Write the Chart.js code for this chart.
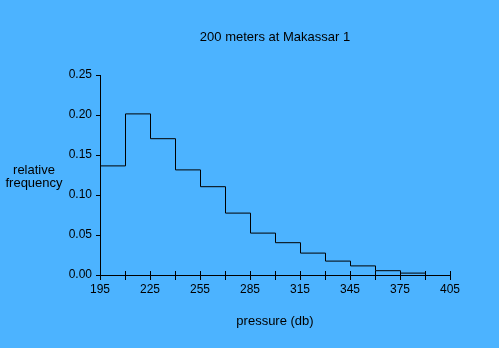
<!DOCTYPE html>
<html>
<head>
<meta charset="utf-8">
<script src="https://cdn.jsdelivr.net/npm/chart.js@4/dist/chart.umd.min.js"></script>
<style>
  html, body { margin: 0; padding: 0; background: #4cb3ff; }
  canvas { display: block; }
</style>
</head>
<body>
<canvas id="myChart" width="499" height="348"></canvas>
<script>
// histogram bins (left edge, db) and relative frequency
let binStarts = [195, 210, 225, 240, 255, 270, 285, 300, 315, 330, 345, 360, 375];
let binWidth = 15;
let freqs = [0.137, 0.202, 0.171, 0.132, 0.111, 0.078, 0.053, 0.041, 0.028, 0.018, 0.012, 0.006, 0.003];
let xTickLabels = [195, 225, 255, 285, 315, 345, 375, 405];
let yTickLabels = ["0.00", "0.05", "0.10", "0.15", "0.20", "0.25"];

let bg = '#4cb3ff';
let family = '"Liberation Sans", Arial, sans-serif';
let tickFont = { family: family, size: 12 };
let labelFont = { family: family, size: 13 };

// step outline points
let points = [{ x: binStarts[0], y: 0 }];
for (let i = 0; i < binStarts.length; i++) {
    points.push({ x: binStarts[i], y: freqs[i] });
}
points.push({ x: binStarts[binStarts.length - 1] + binWidth, y: 0 });

// background + y label + the part of the x ticks above the axis
let extras = {
    id: 'extras',
    beforeDraw(chart) {
        let c = chart.ctx;
        c.save();
        c.fillStyle = bg;
        c.fillRect(0, 0, chart.width, chart.height);
        c.restore();
    },
    beforeDatasetsDraw(chart) {
        // nudge onto pixel centres so the 1px outline stays sharp
        chart.ctx.save();
        chart.ctx.translate(0.5, 0.5);
    },
    afterDatasetsDraw(chart) {
        chart.ctx.restore();
    },
    afterDraw(chart) {
        let c = chart.ctx;
        let xs = chart.scales.x;
        let bottom = chart.chartArea.bottom;
        c.save();
        c.strokeStyle = '#000';
        c.lineWidth = 1;
        xs.ticks.forEach(t => {
            let px = Math.round(xs.getPixelForValue(t.value)) + 0.5;
            c.beginPath();
            c.moveTo(px, bottom);
            c.lineTo(px, bottom - 4);
            c.stroke();
        });
        c.fillStyle = '#000';
        c.font = '13px ' + family;
        c.textAlign = 'center';
        c.textBaseline = 'middle';
        c.fillText('relative', 34, 170);
        c.fillText('frequency', 34, 183);
        c.restore();
    }
};

let ctx = document.getElementById('myChart').getContext('2d');
let myChart = new Chart(ctx, {
    type: 'line',
    data: {
        datasets: [{
            data: points,
            stepped: 'before',
            borderColor: '#000',
            borderWidth: 1,
            pointRadius: 0,
            fill: false
        }]
    },
    options: {
        responsive: false,
        animation: false,
        layout: { padding: { left: 0, right: 49, top: 0, bottom: 0 } },
        plugins: {
            legend: { display: false },
            tooltip: { enabled: false },
            title: {
                display: true,
                text: '200 meters at Makassar 1',
                fullSize: false,
                color: '#000',
                font: { family: family, size: 13, weight: 'normal' },
                padding: { top: 29.2, bottom: 30.2 }
            }
        },
        scales: {
            x: {
                type: 'linear',
                min: 195,
                max: 405,
                afterFit: s => { s.height = 73; },
                border: { color: '#000', width: 1 },
                grid: { drawOnChartArea: false, drawTicks: true, tickLength: 5, color: '#000' },
                ticks: {
                    stepSize: 15,
                    autoSkip: false,
                    maxRotation: 0,
                    padding: 2,
                    color: '#000',
                    font: tickFont,
                    callback: v => xTickLabels.includes(v) ? String(v) : ''
                },
                title: {
                    display: true,
                    text: 'pressure (db)',
                    color: '#000',
                    font: labelFont,
                    padding: { top: 0, bottom: 19.2 }
                }
            },
            y: {
                min: 0,
                max: 0.25,
                afterFit: s => { s.width = 100; },
                border: { color: '#000', width: 1 },
                grid: { drawOnChartArea: false, drawTicks: true, tickLength: 4, color: '#000' },
                ticks: {
                    stepSize: 0.05,
                    padding: 4,
                    color: '#000',
                    font: tickFont,
                    callback: (v, i) => yTickLabels[i]
                }
            }
        }
    },
    plugins: [extras]
});
</script>
</body>
</html>
